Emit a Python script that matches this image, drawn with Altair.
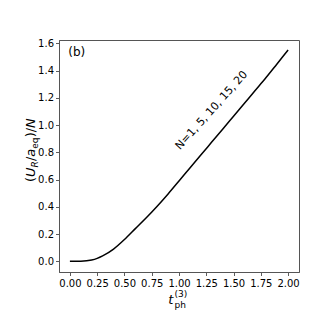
import altair as alt
import pandas as pd

# Data
t_ph = [0.0, 0.1, 0.2, 0.25, 0.3, 0.4, 0.5, 0.6, 0.7, 0.8, 0.9, 1.0,
        1.1, 1.2, 1.3, 1.4, 1.5, 1.6, 1.7, 1.8, 1.9, 2.0]
u_over_n = [0.0, 0.001, 0.01, 0.022, 0.04, 0.09, 0.16, 0.24, 0.32, 0.405, 0.495, 0.59,
            0.685, 0.78, 0.875, 0.97, 1.065, 1.16, 1.255, 1.35, 1.45, 1.55]
x_ticks = [0.0, 0.25, 0.5, 0.75, 1.0, 1.25, 1.5, 1.75, 2.0]
y_ticks = [0.0, 0.2, 0.4, 0.6, 0.8, 1.0, 1.2, 1.4, 1.6]
note_text = "N=1, 5, 10, 15, 20"
note_pos = [1.01, 0.816]
panel_label = "(b)"

FONT = "DejaVu Sans"
SPINE = "#555555"
df = pd.DataFrame({"t": t_ph, "u": u_over_n})

xs = alt.Scale(domain=[-0.1, 2.1], nice=False, zero=False)
ys = alt.Scale(domain=[-0.078, 1.624], nice=False, zero=False)
x_axis = alt.Axis(values=x_ticks, format=".2f", title="", labelPadding=3,
                  labelOverlap=False, labelFlush=False)
y_axis = alt.Axis(values=y_ticks, format=".1f", title="", labelPadding=2,
                  labelOverlap=False, labelFlush=False)

line = alt.Chart(df).mark_line(color="black", strokeWidth=1.5, interpolate="monotone").encode(
    x=alt.X("t:Q", scale=xs, axis=x_axis),
    y=alt.Y("u:Q", scale=ys, axis=y_axis),
)

note = alt.Chart(pd.DataFrame({"t": [note_pos[0]], "u": [note_pos[1]], "s": [note_text]})).mark_text(
    font=FONT, fontSize=11, angle=312, align="left", baseline="alphabetic", color="black"
).encode(x=alt.X("t:Q", scale=xs, axis=x_axis), y=alt.Y("u:Q", scale=ys, axis=y_axis), text="s:N")


def txt(s, x, y, size, angle=0, italic=False):
    kw = dict(font=FONT, fontSize=size, align="left", baseline="alphabetic",
              color="black", text=s)
    if angle:
        kw["angle"] = angle
    if italic:
        kw["fontStyle"] = "italic"
    return alt.Chart(pd.DataFrame({"a": [0]})).mark_text(**kw).encode(
        x=alt.value(x), y=alt.value(y))


labels = [
    txt(panel_label, 9.3, 16, 12),
    # x label: t_ph^(3)
    txt("t", 109.3, 264, 13, italic=True),
    txt("(3)", 115.5, 257, 9),
    txt("ph", 115.5, 267.5, 9),
    # y label: (U_R/a_eq)/N, rotated
    txt("(", -23.7, 142, 13, angle=270),
    txt("U", -23.7, 137, 13, angle=270, italic=True),
    txt("R", -20.7, 127.4, 9, angle=270, italic=True),
    txt("/", -23.7, 121.1, 13, angle=270),
    txt("a", -23.7, 116.7, 13, angle=270, italic=True),
    txt("eq", -20.7, 108.75, 9, angle=270),
    txt(")/", -23.7, 97.35, 13, angle=270),
    txt("N", -23.7, 87.9, 13, angle=270, italic=True),
]

chart = alt.layer(line, note, *labels).properties(
    width=240, height=232,
    autosize=alt.AutoSizeParams(type="none"),
    padding={"left": 51, "top": 32, "right": 24, "bottom": 52},
).configure_view(stroke=SPINE, strokeWidth=1).configure_axis(
    labelFont=FONT, labelFontSize=10, labelColor="black",
    tickColor="#333333", tickSize=3.5, tickWidth=0.8,
    domainColor=SPINE, domainWidth=1, grid=False,
)

chart.save("out.html", embed_options={"renderer": "svg", "actions": False})
